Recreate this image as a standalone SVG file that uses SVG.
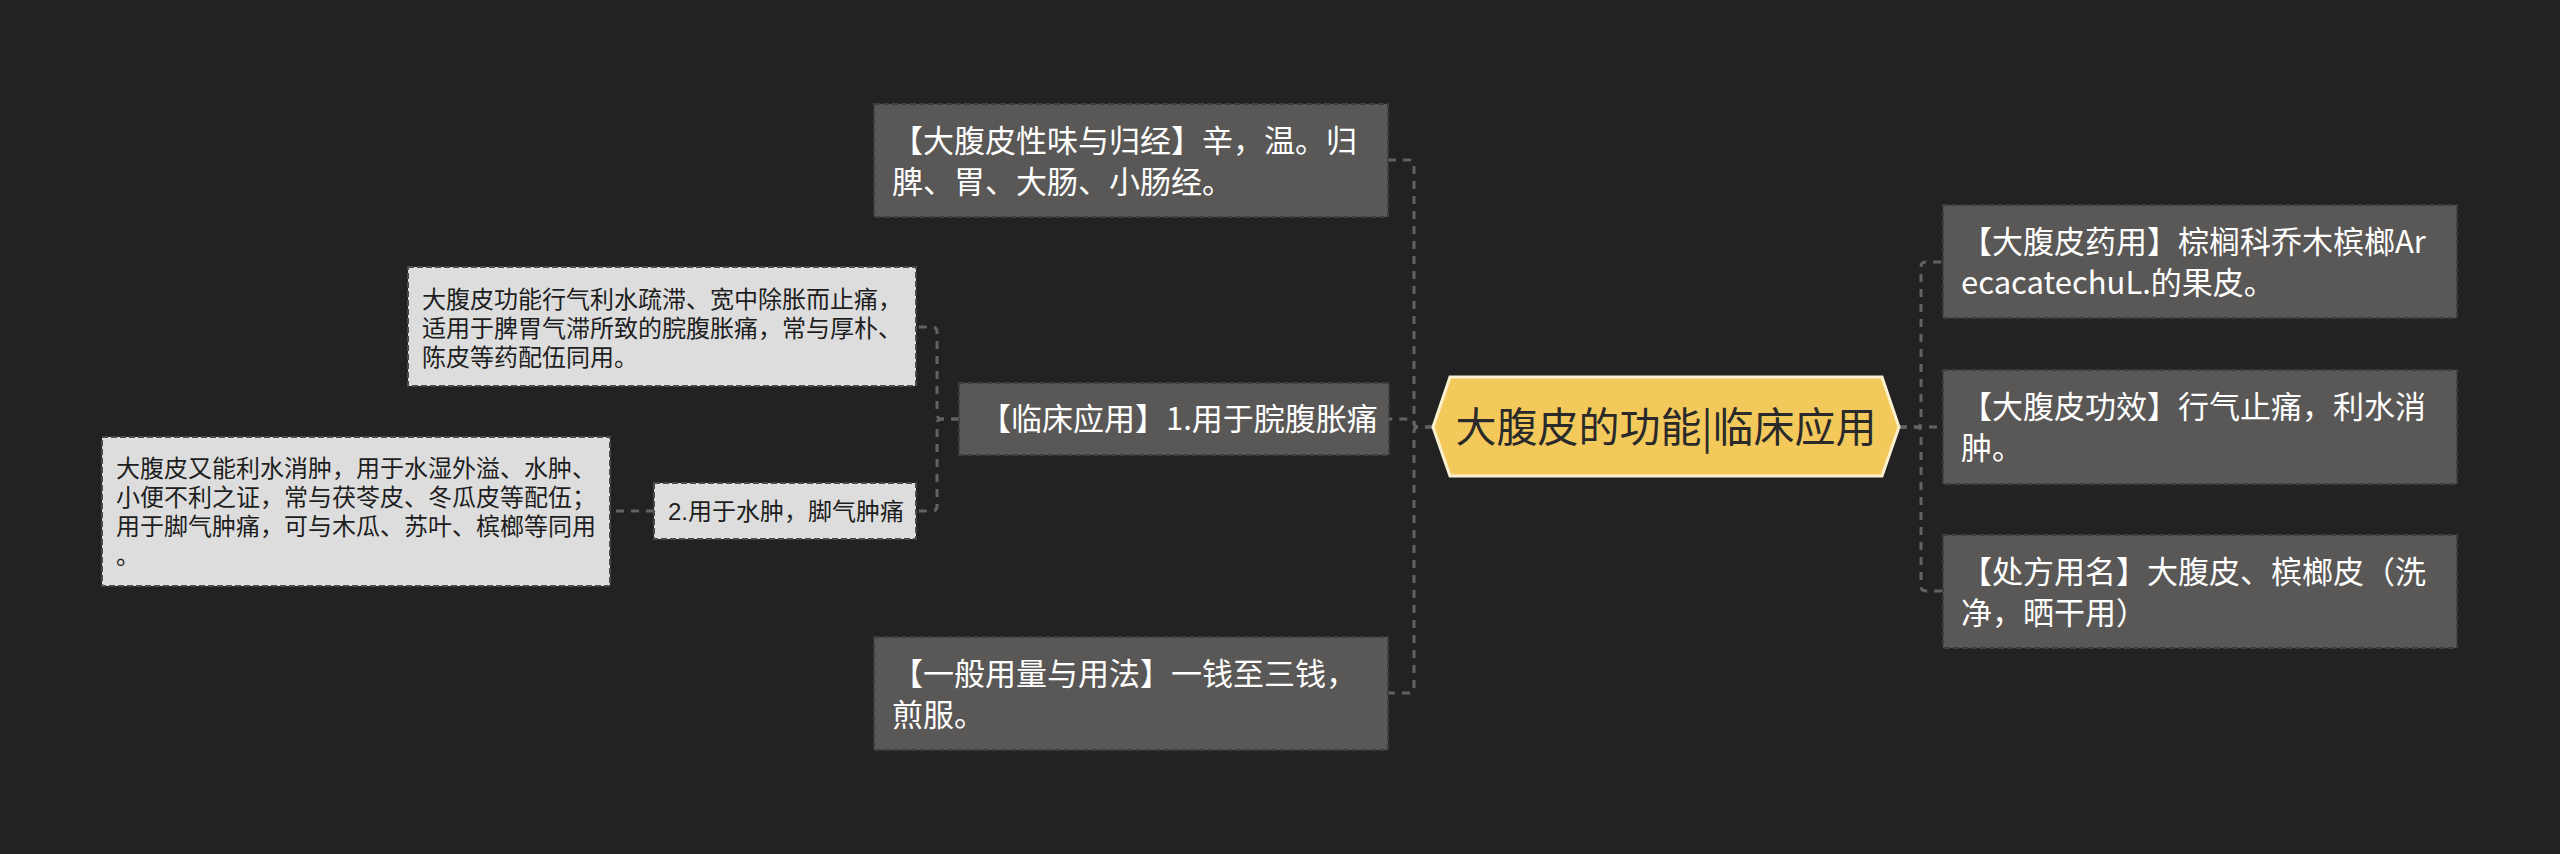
<svg xmlns="http://www.w3.org/2000/svg" width="2560" height="854" viewBox="0 0 2560 854">
<style>
.dark{fill:#5a5856;stroke:#403e3d;stroke-width:2;stroke-dasharray:6 3}
.light{fill:#dddddd;stroke:#4a4a4a;stroke-width:2;stroke-dasharray:6 3}
.tw{font-family:"Noto Sans CJK SC","Noto Sans",sans-serif;font-size:31px;fill:#ffffff}
.tb{font-family:"Liberation Sans","Noto Sans CJK SC",sans-serif;font-size:24px;fill:#1e1e1e}
.tc{font-family:"Noto Sans CJK SC","Noto Sans",sans-serif;font-size:41px;fill:#2a2a2a}
.edge{fill:none;stroke:#626262;stroke-width:3;stroke-dasharray:8 7}
</style>
<rect x="0" y="0" width="2560" height="854" fill="#222222"/>
<g id="connectors">
<path class="edge" d="M1433,427 H1419 Q1414,427 1414,422 V165 Q1414,160 1409,160 H1389"/>
<path class="edge" d="M1433,427 H1419 Q1414,427 1414,424 Q1414,419 1409,419 H1389"/>
<path class="edge" d="M1433,427 H1419 Q1414,427 1414,432 V688 Q1414,693 1409,693 H1389"/>
<path class="edge" d="M1899,427 H1916 Q1921,427 1921,422 V267 Q1921,262 1926,262 H1943"/>
<path class="edge" d="M1899,427 H1943"/>
<path class="edge" d="M1899,427 H1916 Q1921,427 1921,432 V586 Q1921,591 1926,591 H1943"/>
<path class="edge" d="M959,419 H942 Q937,419 937,414 V332 Q937,327 932,327 H916"/>
<path class="edge" d="M959,419 H942 Q937,419 937,424 V506 Q937,511 932,511 H916"/>
<path class="edge" d="M654,511 H610"/>
</g>
<g id="center">
<polygon points="1433,427 1450,377 1882,377 1899,427 1882,476 1450,476" fill="#f4c95c" stroke="#fbf0d0" stroke-width="3"/>
<text class="tc" x="1666" y="442" text-anchor="middle">大腹皮的功能|临床应用</text>
</g>
<g id="n-xingwei">
<rect class="dark" x="874" y="104" width="514" height="113"/>
<text class="tw" x="892" y="152">【大腹皮性味与归经】辛，温。归</text>
<text class="tw" x="892" y="193">脾、胃、大肠、小肠经。</text>
</g>
<g id="n-linchuang">
<rect class="dark" x="959" y="383" width="430" height="72"/>
<text class="tw" x="980" y="430">【临床应用】1.用于脘腹胀痛</text>
</g>
<g id="n-yongliang">
<rect class="dark" x="874" y="637" width="514" height="113"/>
<text class="tw" x="892" y="685">【一般用量与用法】一钱至三钱，</text>
<text class="tw" x="892" y="726">煎服。</text>
</g>
<g id="n-gongneng">
<rect class="light" x="408" y="267" width="508" height="119"/>
<text class="tb" x="422" y="308">大腹皮功能行气利水疏滞、宽中除胀而止痛，</text>
<text class="tb" x="422" y="337">适用于脾胃气滞所致的脘腹胀痛，常与厚朴、</text>
<text class="tb" x="422" y="366">陈皮等药配伍同用。</text>
</g>
<g id="n-shuizhong">
<rect class="light" x="654" y="483" width="262" height="56"/>
<text class="tb" x="668" y="520">2.用于水肿，脚气肿痛</text>
</g>
<g id="n-xiaozhong">
<rect class="light" x="102" y="437" width="508" height="149"/>
<text class="tb" x="116" y="477">大腹皮又能利水消肿，用于水湿外溢、水肿、</text>
<text class="tb" x="116" y="506">小便不利之证，常与茯苓皮、冬瓜皮等配伍；</text>
<text class="tb" x="116" y="535">用于脚气肿痛，可与木瓜、苏叶、槟榔等同用</text>
<text class="tb" x="116" y="564">。</text>
</g>
<g id="n-yaoyong">
<rect class="dark" x="1943" y="205" width="514" height="113"/>
<text class="tw" x="1961" y="253">【大腹皮药用】棕榈科乔木槟榔Ar</text>
<text class="tw" x="1961" y="294">ecacatechuL.的果皮。</text>
</g>
<g id="n-gongxiao">
<rect class="dark" x="1943" y="370" width="514" height="114"/>
<text class="tw" x="1961" y="418">【大腹皮功效】行气止痛，利水消</text>
<text class="tw" x="1961" y="459">肿。</text>
</g>
<g id="n-chufang">
<rect class="dark" x="1943" y="535" width="514" height="113"/>
<text class="tw" x="1961" y="583">【处方用名】大腹皮、槟榔皮（洗</text>
<text class="tw" x="1961" y="624">净，晒干用）</text>
</g>
</svg>
